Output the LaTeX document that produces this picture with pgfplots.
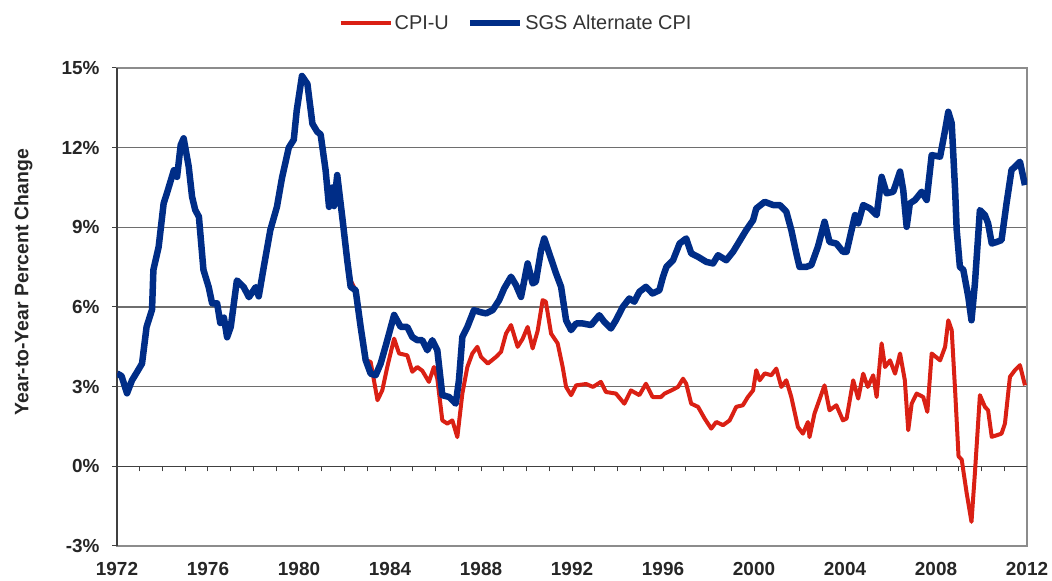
\documentclass[border=0pt]{standalone}
\usepackage{pgfplots}
\pgfplotsset{compat=1.18}
\usepackage{fontspec}
\setmainfont{Liberation Sans}
\definecolor{cpiRed}{RGB}{218,32,20}
\definecolor{sgsBlue}{RGB}{0,45,135}
\definecolor{gridGray}{RGB}{110,110,110}
\definecolor{frameGray}{RGB}{140,140,140}
\pgfplotsset{set layers}

\begin{document}
\begin{tikzpicture}
\path (0,0) rectangle (1052bp,581bp);
\begin{axis}[
  at={(117bp,35bp)}, anchor=south west,
  width=910bp, height=478bp, scale only axis,
  xmin=1972, xmax=2012, ymin=-3, ymax=15,
  xtick={1972,1976,...,2012},
  xticklabels={1972,1976,1980,1984,1988,1992,1996,2000,2004,2008,2012},
  ytick={-3,0,...,15},
  yticklabels={-3\%,0\%,3\%,6\%,9\%,12\%,15\%},
  major tick length=0pt,
  ymajorgrids, grid style={gridGray, line width=1.3bp},
  axis line style={frameGray, line width=1.2bp},
  ticklabel style={font=\fontsize{19}{22}\selectfont\bfseries, text=black!85},
  xticklabel style={yshift=-13bp},
  yticklabel style={xshift=-14bp},
  ylabel={Year-to-Year Percent Change},
  ylabel style={font=\fontsize{19.5}{22}\selectfont\bfseries, text=black!85, at={(axis description cs:-0.103,0.552)}, anchor=center},
  legend columns=2,
  legend style={at={(0.4385,1.094)}, anchor=center, draw=none, fill=none,
    font=\fontsize{20}{23}\selectfont, text=black!80,
    /tikz/every even column/.append style={column sep=16bp}},
  legend image code/.code={\draw[#1] (0bp,0bp) -- (50bp,0bp);},
]
\addplot[cpiRed, line width=4bp, line join=round] table {
1972.0 3.5
1972.2 3.4
1972.44 2.75
1972.66 3.24
1972.88 3.55
1973.1 3.87
1973.3 5.25
1973.54 5.9
1973.6 7.4
1973.83 8.26
1974.05 9.9
1974.2 10.3
1974.5 11.15
1974.64 10.9
1974.8 12.1
1974.93 12.35
1975.15 11.3
1975.3 10.15
1975.44 9.65
1975.6 9.4
1975.8 7.4
1976.03 6.75
1976.18 6.14
1976.4 6.14
1976.54 5.4
1976.7 5.6
1976.84 4.86
1977.0 5.25
1977.27 7.0
1977.57 6.75
1977.8 6.37
1978.1 6.75
1978.23 6.4
1978.45 7.5
1978.74 8.9
1979.03 9.77
1979.25 10.85
1979.55 12.0
1979.77 12.3
1979.9 13.4
1980.13 14.7
1980.37 14.4
1980.59 12.9
1980.8 12.6
1980.95 12.5
1981.17 11.15
1981.32 9.77
1981.46 10.5
1981.54 9.8
1981.68 10.97
1981.9 9.4
1982.12 7.76
1982.27 7.0
1982.49 6.63
1982.71 5.25
1982.93 4.0
1983.15 3.93
1983.45 2.49
1983.66 2.86
1983.88 3.74
1984.18 4.81
1984.4 4.25
1984.76 4.18
1984.98 3.56
1985.2 3.74
1985.42 3.6
1985.71 3.18
1985.93 3.74
1986.08 3.3
1986.3 1.73
1986.52 1.61
1986.74 1.73
1986.96 1.1
1987.18 2.74
1987.4 3.74
1987.62 4.25
1987.84 4.5
1988.0 4.12
1988.3 3.87
1988.66 4.12
1988.88 4.31
1989.1 5.0
1989.32 5.32
1989.61 4.5
1989.83 4.8
1990.05 5.25
1990.27 4.44
1990.49 5.1
1990.71 6.26
1990.85 6.2
1991.08 5.0
1991.37 4.63
1991.59 3.74
1991.74 2.99
1991.96 2.68
1992.18 3.05
1992.62 3.1
1992.92 2.99
1993.27 3.18
1993.49 2.8
1993.93 2.74
1994.3 2.36
1994.59 2.86
1994.96 2.68
1995.25 3.11
1995.54 2.61
1995.91 2.61
1996.07 2.74
1996.37 2.86
1996.66 2.99
1996.88 3.3
1997.02 3.11
1997.24 2.36
1997.54 2.24
1997.83 1.8
1998.12 1.42
1998.34 1.67
1998.64 1.55
1998.93 1.73
1999.22 2.24
1999.51 2.3
1999.73 2.61
1999.96 2.86
2000.1 3.62
2000.25 3.24
2000.47 3.5
2000.76 3.43
2000.98 3.68
2001.2 2.99
2001.42 3.24
2001.64 2.61
2001.93 1.48
2002.15 1.23
2002.37 1.67
2002.44 1.1
2002.66 1.99
2003.1 3.05
2003.32 2.11
2003.62 2.3
2003.91 1.73
2004.07 1.8
2004.36 3.24
2004.58 2.55
2004.8 3.49
2005.0 2.99
2005.24 3.43
2005.39 2.61
2005.61 4.63
2005.76 3.74
2005.98 3.99
2006.2 3.49
2006.42 4.25
2006.63 3.24
2006.78 1.36
2006.93 2.36
2007.15 2.74
2007.44 2.61
2007.62 2.05
2007.81 4.25
2008.18 3.99
2008.4 4.5
2008.54 5.5
2008.69 5.13
2008.84 2.86
2008.99 0.38
2009.13 0.25
2009.35 -1.02
2009.56 -2.09
2009.71 -0.25
2009.93 2.68
2010.15 2.24
2010.29 2.11
2010.45 1.11
2010.67 1.17
2010.88 1.23
2011.03 1.61
2011.25 3.37
2011.47 3.62
2011.69 3.81
2011.91 3.05
};
\addplot[sgsBlue, line width=6.5bp, line join=round] table {
1972.0 3.5
1972.2 3.4
1972.44 2.75
1972.66 3.24
1972.88 3.55
1973.1 3.87
1973.3 5.25
1973.54 5.9
1973.6 7.4
1973.83 8.26
1974.05 9.9
1974.2 10.3
1974.5 11.15
1974.64 10.9
1974.8 12.1
1974.93 12.35
1975.15 11.3
1975.3 10.15
1975.44 9.65
1975.6 9.4
1975.8 7.4
1976.03 6.75
1976.18 6.14
1976.4 6.14
1976.54 5.4
1976.7 5.6
1976.84 4.86
1977.0 5.25
1977.27 7.0
1977.57 6.75
1977.8 6.37
1978.1 6.75
1978.23 6.4
1978.45 7.5
1978.74 8.9
1979.03 9.77
1979.25 10.85
1979.55 12.0
1979.77 12.3
1979.9 13.4
1980.13 14.7
1980.37 14.4
1980.59 12.9
1980.8 12.6
1980.95 12.5
1981.17 11.15
1981.32 9.77
1981.46 10.5
1981.54 9.8
1981.68 10.97
1981.9 9.4
1982.12 7.76
1982.27 6.76
1982.49 6.63
1982.71 5.25
1982.93 4.0
1983.15 3.49
1983.37 3.43
1983.59 3.87
1983.88 4.75
1984.18 5.7
1984.47 5.25
1984.76 5.25
1984.98 4.87
1985.2 4.75
1985.42 4.75
1985.64 4.37
1985.86 4.75
1986.08 4.37
1986.3 2.68
1986.6 2.61
1986.89 2.36
1987.03 3.24
1987.18 4.87
1987.4 5.25
1987.69 5.88
1988.0 5.8
1988.22 5.76
1988.51 5.88
1988.8 6.26
1989.02 6.7
1989.32 7.14
1989.54 6.82
1989.76 6.38
1990.05 7.64
1990.27 6.89
1990.41 6.95
1990.64 8.14
1990.78 8.58
1991.0 8.02
1991.3 7.26
1991.52 6.76
1991.74 5.5
1991.96 5.13
1992.18 5.38
1992.47 5.38
1992.84 5.32
1993.2 5.69
1993.42 5.44
1993.71 5.19
1993.93 5.5
1994.23 6.0
1994.52 6.32
1994.74 6.2
1994.96 6.57
1995.25 6.76
1995.54 6.51
1995.84 6.63
1996.0 7.14
1996.15 7.51
1996.44 7.76
1996.73 8.39
1997.02 8.58
1997.24 8.02
1997.54 7.89
1997.9 7.7
1998.2 7.64
1998.42 7.95
1998.78 7.76
1999.08 8.08
1999.3 8.39
1999.66 8.9
1999.96 9.27
2000.1 9.71
2000.47 9.96
2000.84 9.84
2001.13 9.84
2001.42 9.59
2001.64 8.9
2001.86 8.02
2002.0 7.51
2002.3 7.51
2002.52 7.58
2002.81 8.27
2003.1 9.21
2003.32 8.45
2003.62 8.39
2003.91 8.08
2004.07 8.08
2004.29 8.9
2004.44 9.46
2004.58 9.15
2004.8 9.84
2005.1 9.71
2005.39 9.46
2005.61 10.9
2005.83 10.28
2006.12 10.34
2006.42 11.1
2006.56 10.4
2006.71 9.02
2006.85 9.9
2007.08 10.03
2007.37 10.34
2007.59 10.03
2007.81 11.72
2008.18 11.66
2008.4 12.66
2008.54 13.35
2008.69 12.92
2008.84 10.4
2008.91 8.9
2009.05 7.51
2009.2 7.4
2009.42 6.38
2009.56 5.5
2009.71 6.88
2009.93 9.65
2010.15 9.46
2010.29 9.15
2010.45 8.39
2010.67 8.45
2010.88 8.52
2011.1 9.9
2011.32 11.16
2011.47 11.28
2011.69 11.47
2011.91 10.59
};
\legend{CPI-U, SGS Alternate CPI}
\end{axis}
\begin{axis}[
  at={(117bp,35bp)}, anchor=south west,
  width=910bp, height=478bp, scale only axis,
  xmin=1972, xmax=2012, ymin=-3, ymax=15,
  axis x line=middle, axis y line=left,
  axis line style={-, black!75, line width=1.6bp},
  xtick={1972,1973,...,2012}, ytick={-3,0,...,15},
  xticklabels={}, yticklabels={},
  tick style={black!75, line width=1bp},
  major tick length=5bp,
  tick align=outside,
]
\addplot[draw=none] coordinates {(1972,0) (2012,0)};
\end{axis}
\end{tikzpicture}
\end{document}
